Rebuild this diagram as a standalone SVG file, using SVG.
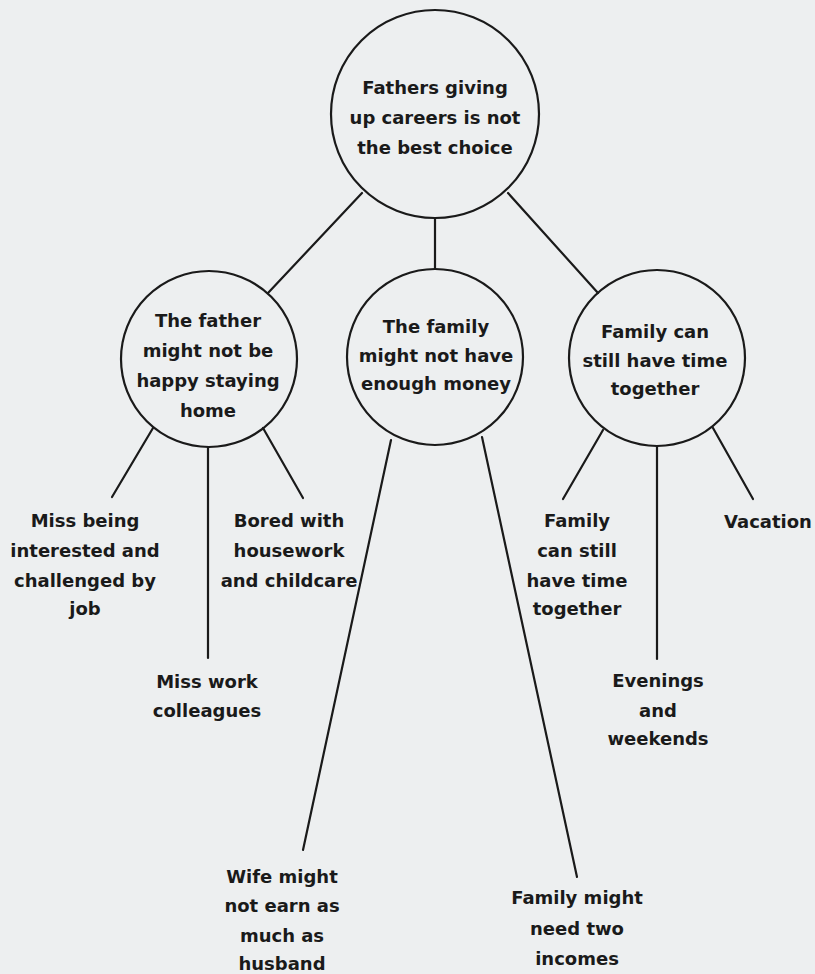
<svg xmlns="http://www.w3.org/2000/svg" width="815" height="974" viewBox="0 0 815 974">
<style>
.bg{fill:#edeff0}
.node circle{fill:none;stroke:#1a1a1a;stroke-width:2.2}
.conn line{stroke:#1a1a1a;stroke-width:2.2;stroke-linecap:round}
text{font-family:"DejaVu Sans","Liberation Sans",sans-serif;font-weight:bold;font-size:18px;fill:#1a1a1a;text-anchor:middle}
</style>
<rect class="bg" x="0" y="0" width="815" height="974"/>
<g id="connectors" class="conn">
<line x1="362" y1="193" x2="268" y2="293"/>
<line x1="435" y1="218" x2="435" y2="269"/>
<line x1="508" y1="193" x2="598" y2="293"/>
<line x1="153" y1="428" x2="112" y2="497"/>
<line x1="208" y1="447" x2="208" y2="658"/>
<line x1="263" y1="428" x2="303" y2="498"/>
<line x1="391" y1="440" x2="303" y2="850"/>
<line x1="482" y1="437" x2="577" y2="877"/>
<line x1="603" y1="430" x2="563" y2="499"/>
<line x1="657" y1="446" x2="657" y2="659"/>
<line x1="713" y1="428" x2="753" y2="499"/>
</g>
<g id="root" class="node">
<circle cx="435" cy="114" r="104"/>
<text x="435" y="94">Fathers giving</text>
<text x="435" y="124">up careers is not</text>
<text x="435" y="154">the best choice</text>
</g>
<g id="father-unhappy" class="node">
<circle cx="209" cy="359" r="88"/>
<text x="208" y="327">The father</text>
<text x="208" y="357">might not be</text>
<text x="208" y="387">happy staying</text>
<text x="208" y="417">home</text>
</g>
<g id="money" class="node">
<circle cx="435" cy="357" r="88"/>
<text x="436" y="333">The family</text>
<text x="436" y="362">might not have</text>
<text x="436" y="390">enough money</text>
</g>
<g id="time" class="node">
<circle cx="657" cy="358" r="88"/>
<text x="655" y="338">Family can</text>
<text x="655" y="367">still have time</text>
<text x="655" y="395">together</text>
</g>
<g id="miss-interest" class="node">
<text x="85" y="527">Miss being</text>
<text x="85" y="557">interested and</text>
<text x="85" y="587">challenged by</text>
<text x="85" y="615">job</text>
</g>
<g id="miss-colleagues" class="node">
<text x="207" y="688">Miss work</text>
<text x="207" y="717">colleagues</text>
</g>
<g id="bored" class="node">
<text x="289" y="527">Bored with</text>
<text x="289" y="557">housework</text>
<text x="289" y="587">and childcare</text>
</g>
<g id="wife-earn" class="node">
<text x="282" y="883">Wife might</text>
<text x="282" y="912">not earn as</text>
<text x="282" y="942">much as</text>
<text x="282" y="970">husband</text>
</g>
<g id="two-incomes" class="node">
<text x="577" y="904">Family might</text>
<text x="577" y="935">need two</text>
<text x="577" y="965">incomes</text>
</g>
<g id="family-time" class="node">
<text x="577" y="527">Family</text>
<text x="577" y="557">can still</text>
<text x="577" y="587">have time</text>
<text x="577" y="615">together</text>
</g>
<g id="evenings" class="node">
<text x="658" y="687">Evenings</text>
<text x="658" y="717">and</text>
<text x="658" y="745">weekends</text>
</g>
<g id="vacation" class="node">
<text x="768" y="528">Vacation</text>
</g>
</svg>
